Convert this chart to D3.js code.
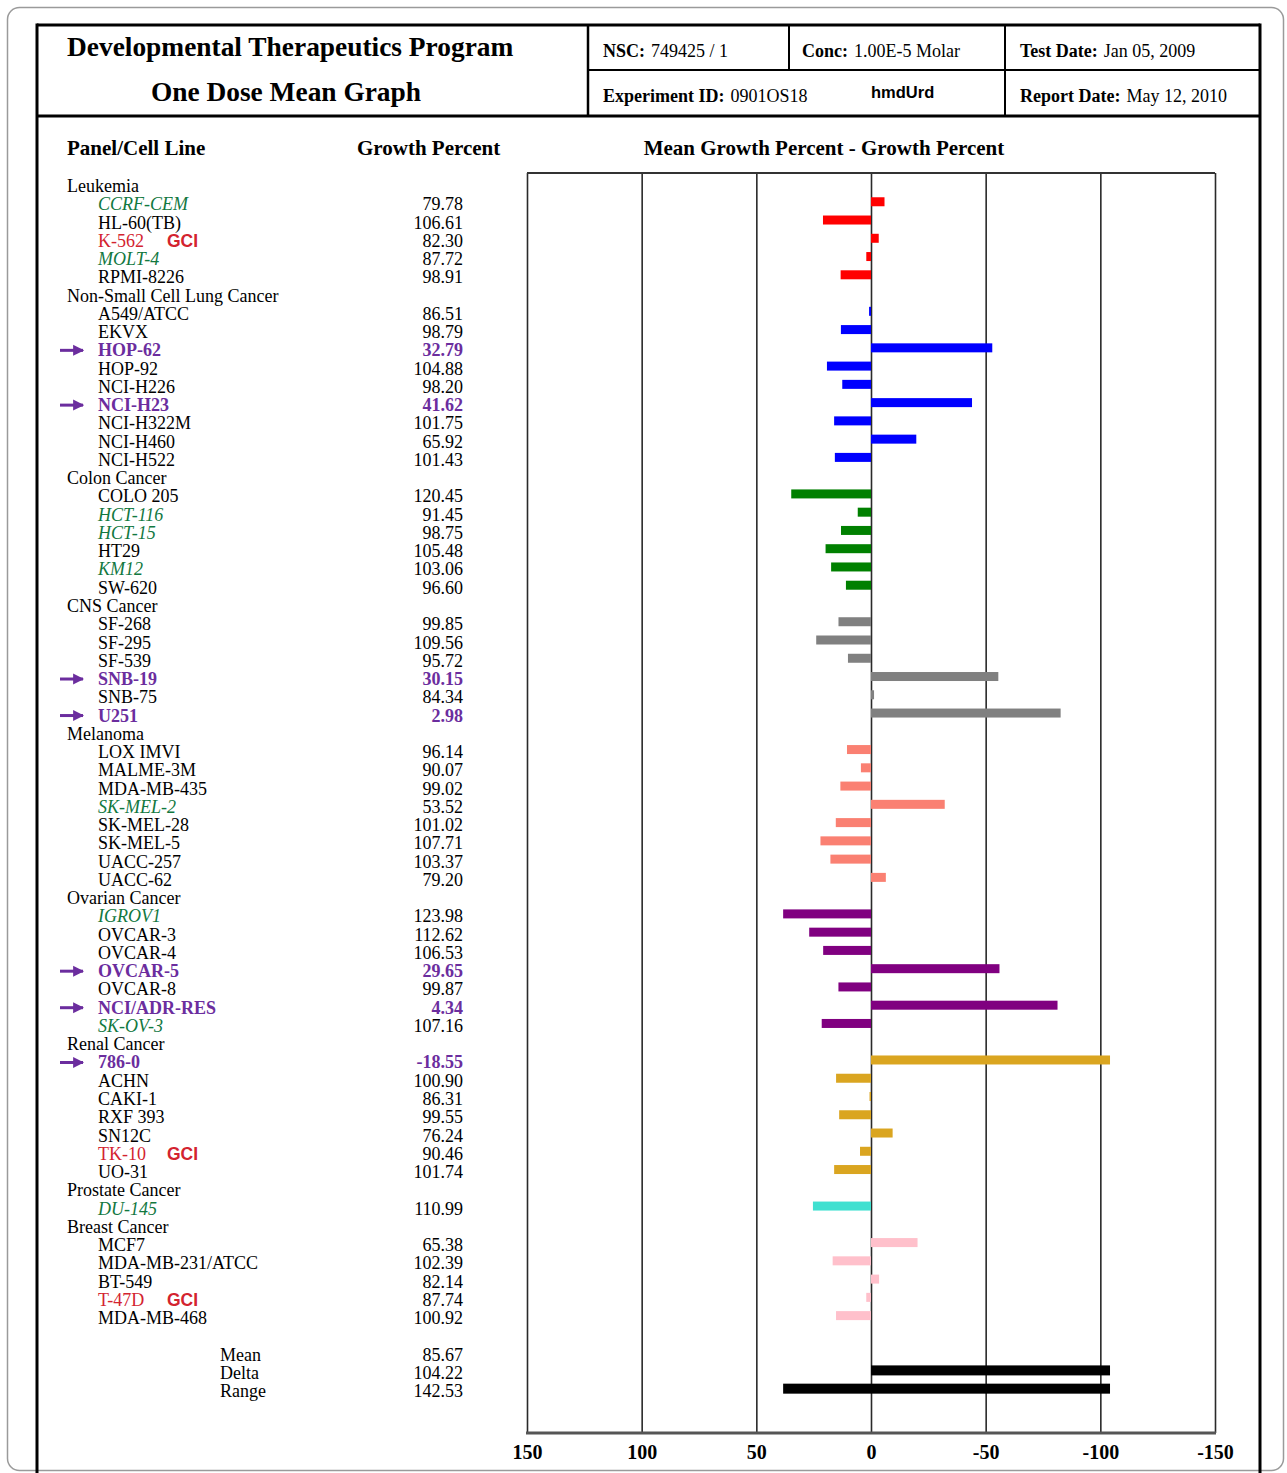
<!DOCTYPE html>
<html><head><meta charset="utf-8">
<script src="https://cdn.jsdelivr.net/npm/d3@7"></script>
<style>
html,body{margin:0;padding:0;background:#fff;}
svg{display:block;}
</style></head>
<body>
<svg id="chart" width="1287" height="1473" font-family='"Liberation Serif","Times New Roman",serif'></svg>
<script>
// ---------------- DATA ----------------
const panels = ["Leukemia","Non-Small Cell Lung Cancer","Colon Cancer","CNS Cancer","Melanoma","Ovarian Cancer","Renal Cancer","Prostate Cancer","Breast Cancer"];
const panelSizes = [5,9,6,6,8,7,7,1,5];
const panelColors = ["#ff0000","#0000ff","#008000","#808080","#fa8072","#800080","#daa520","#40e0d0","#ffc0cb"];
const cellLines = [
 "CCRF-CEM","HL-60(TB)","K-562","MOLT-4","RPMI-8226",
 "A549/ATCC","EKVX","HOP-62","HOP-92","NCI-H226","NCI-H23","NCI-H322M","NCI-H460","NCI-H522",
 "COLO 205","HCT-116","HCT-15","HT29","KM12","SW-620",
 "SF-268","SF-295","SF-539","SNB-19","SNB-75","U251",
 "LOX IMVI","MALME-3M","MDA-MB-435","SK-MEL-2","SK-MEL-28","SK-MEL-5","UACC-257","UACC-62",
 "IGROV1","OVCAR-3","OVCAR-4","OVCAR-5","OVCAR-8","NCI/ADR-RES","SK-OV-3",
 "786-0","ACHN","CAKI-1","RXF 393","SN12C","TK-10","UO-31",
 "DU-145",
 "MCF7","MDA-MB-231/ATCC","BT-549","T-47D","MDA-MB-468"];
const growthPercent = [
 79.78,106.61,82.30,87.72,98.91,
 86.51,98.79,32.79,104.88,98.20,41.62,101.75,65.92,101.43,
 120.45,91.45,98.75,105.48,103.06,96.60,
 99.85,109.56,95.72,30.15,84.34,2.98,
 96.14,90.07,99.02,53.52,101.02,107.71,103.37,79.20,
 123.98,112.62,106.53,29.65,99.87,4.34,107.16,
 -18.55,100.90,86.31,99.55,76.24,90.46,101.74,
 110.99,
 65.38,102.39,82.14,87.74,100.92];
// g = italic green, r = red with GCI, p = purple bold with arrow
const cellStyle = [
 "g","","r","g","",
 "","","p","","","p","","","",
 "","g","g","","g","",
 "","","","p","","p",
 "","","","g","","","","",
 "g","","","p","","p","g",
 "p","","","","","r","",
 "g",
 "","","","r",""];
const summaryLabels = ["Mean","Delta","Range"];
const summaryValues = [85.67,104.22,142.53];
const tickValues = [150,100,50,0,-50,-100,-150];

// --------------- LAYOUT ---------------
const svg = d3.select("#chart");
const serif = '"Liberation Serif","Times New Roman",serif';
const sans = '"Liberation Sans",Arial,sans-serif';
const purple = "#6b2d9e", green = "#12783f", red = "#d3232f";
const fmt = v => v.toFixed(2);

// outer rounded frame
svg.append("rect").attr("x",7.5).attr("y",7.5).attr("width",1276).attr("height",1463)
  .attr("rx",12).attr("fill","none").attr("stroke","#9a9a9a").attr("stroke-width",1.5);

// main black frame
const L=37, R=1260, T=25, HB=116, HM=70;
const g0 = svg.append("g").attr("stroke","#000").attr("fill","none");
g0.append("line").attr("x1",L).attr("x2",L).attr("y1",T-1.5).attr("y2",1473).attr("stroke-width",3);
g0.append("line").attr("x1",R).attr("x2",R).attr("y1",T-1.5).attr("y2",1473).attr("stroke-width",3);
g0.append("line").attr("x1",L).attr("x2",R).attr("y1",T).attr("y2",T).attr("stroke-width",3);
g0.append("line").attr("x1",L).attr("x2",R).attr("y1",HB).attr("y2",HB).attr("stroke-width",3);
g0.append("line").attr("x1",588).attr("x2",R).attr("y1",HM).attr("y2",HM).attr("stroke-width",2);
g0.append("line").attr("x1",588).attr("x2",588).attr("y1",T).attr("y2",HB).attr("stroke-width",2.5);
g0.append("line").attr("x1",789).attr("x2",789).attr("y1",T).attr("y2",HM).attr("stroke-width",2);
g0.append("line").attr("x1",1005).attr("x2",1005).attr("y1",T).attr("y2",HB).attr("stroke-width",2);

// titles
svg.append("text").attr("x",67).attr("y",56).attr("font-size",27.4).attr("font-weight","bold")
  .text("Developmental Therapeutics Program");
svg.append("text").attr("x",286).attr("y",101).attr("font-size",27.4).attr("font-weight","bold")
  .attr("text-anchor","middle").text("One Dose Mean Graph");

function headerCell(x,y,label,value){
  const t = svg.append("text").attr("x",x).attr("y",y).attr("font-size",18);
  t.append("tspan").attr("font-weight","bold").text(label);
  t.append("tspan").attr("dx",6).text(value);
}
headerCell(603,57,"NSC:","749425 / 1");
headerCell(802,57,"Conc:","1.00E-5 Molar");
headerCell(1020,57,"Test Date:","Jan 05, 2009");
headerCell(603,102,"Experiment ID:","0901OS18");
headerCell(1020,102,"Report Date:","May 12, 2010");
svg.append("text").attr("x",871).attr("y",98).attr("font-family",sans).attr("font-weight","bold")
  .attr("font-size",16.5).text("hmdUrd");

// column headers
svg.append("text").attr("x",67).attr("y",155).attr("font-size",21).attr("font-weight","bold").text("Panel/Cell Line");
svg.append("text").attr("x",357).attr("y",155).attr("font-size",21).attr("font-weight","bold").text("Growth Percent");
svg.append("text").attr("x",824).attr("y",155).attr("font-size",21).attr("font-weight","bold")
  .attr("text-anchor","middle").text("Mean Growth Percent - Growth Percent");

// build rows
const rows = [];
let ci = 0;
panels.forEach((p,pi)=>{
  rows.push({type:"panel",name:p});
  for(let k=0;k<panelSizes[pi];k++){
    rows.push({type:"cell",name:cellLines[ci],value:growthPercent[ci],style:cellStyle[ci],color:panelColors[pi]});
    ci++;
  }
});
rows.push({type:"blank"});
summaryLabels.forEach((s,i)=>rows.push({type:"summary",name:s,value:summaryValues[i]}));
rows.forEach((r,i)=>r.i=i);

const y = d3.scaleLinear().domain([0,rows.length-1]).range([192,192+(rows.length-1)*18.26]);
const x = d3.scaleLinear().domain([150,-150]).range([527,1215]);
const mean = summaryValues[0];

// chart frame & grid via axis
const cTop=173, cBot=1433;
const axis = d3.axisBottom(x).tickValues(tickValues).tickSize(-(cBot-cTop)).tickSizeOuter(0).tickPadding(12)
  .tickFormat(d => String(d));
const ag = svg.append("g").attr("transform",`translate(0,${cBot})`).call(axis);
ag.attr("font-family",serif);
ag.select(".domain").remove();
ag.selectAll(".tick line").attr("stroke","#2a2a2a").attr("stroke-width",1.6);
ag.selectAll(".tick text").attr("font-family",serif).attr("font-size",20).attr("font-weight","bold").attr("fill","#000");
svg.append("line").attr("x1",x(150)).attr("x2",x(-150)).attr("y1",cTop).attr("y2",cTop).attr("stroke","#333").attr("stroke-width",2);
svg.append("line").attr("x1",x(150)-1).attr("x2",x(-150)+1).attr("y1",cBot).attr("y2",cBot).attr("stroke","#555").attr("stroke-width",3);

// arrow marker
svg.append("defs").append("marker").attr("id","arr").attr("viewBox","0 0 10 10").attr("refX",9).attr("refY",5)
  .attr("markerWidth",11).attr("markerHeight",12).attr("markerUnits","userSpaceOnUse").attr("orient","auto")
  .append("path").attr("d","M0,0 L10,5 L0,10 Z").attr("fill",purple);

// text rows
const tg = svg.append("g").attr("font-size",18);
rows.forEach(r=>{
  const yb = y(r.i);
  if(r.type==="panel"){
    tg.append("text").attr("x",67).attr("y",yb).text(r.name);
  } else if(r.type==="cell"){
    const t = tg.append("text").attr("x",98).attr("y",yb).text(r.name);
    const v = tg.append("text").attr("x",463).attr("y",yb).attr("text-anchor","end").text(fmt(r.value));
    if(r.style==="g"){ t.attr("fill",green).attr("font-style","italic"); }
    if(r.style==="r"){
      t.attr("fill",red);
      tg.append("text").attr("x",167).attr("y",yb).attr("font-family",sans).attr("font-weight","bold")
        .attr("font-size",17.5).attr("fill",red).text("GCI");
    }
    if(r.style==="p"){
      t.attr("fill",purple).attr("font-weight","bold");
      v.attr("fill",purple).attr("font-weight","bold");
      svg.append("line").attr("x1",60).attr("x2",83).attr("y1",yb-6).attr("y2",yb-6)
        .attr("stroke",purple).attr("stroke-width",3).attr("marker-end","url(#arr)");
    }
  } else if(r.type==="summary"){
    tg.append("text").attr("x",220).attr("y",yb).text(r.name);
    tg.append("text").attr("x",463).attr("y",yb).attr("text-anchor","end").text(fmt(r.value));
  }
});

// bars
const barH = 9;
const cells = rows.filter(r=>r.type==="cell");
svg.append("g").selectAll("rect").data(cells).join("rect")
  .attr("x",d=>Math.min(x(0),x(d.value-mean)))
  .attr("width",d=>Math.abs(x(d.value-mean)-x(0)))
  .attr("y",d=>y(d.i)-8.5-barH/2).attr("height",barH)
  .attr("fill",d=>d.color);

// summary bars: delta (0 to min-mean) and range (max-mean to min-mean)
const gMin = d3.min(growthPercent), gMax = d3.max(growthPercent);
const sRows = rows.filter(r=>r.type==="summary");
const deltaRow = sRows[1], rangeRow = sRows[2];
const sumBars = [
  {i:deltaRow.i, a:0, b:gMin-mean},
  {i:rangeRow.i, a:gMax-mean, b:gMin-mean}
];
svg.append("g").selectAll("rect").data(sumBars).join("rect")
  .attr("x",d=>Math.min(x(d.a),x(d.b)))
  .attr("width",d=>Math.abs(x(d.a)-x(d.b)))
  .attr("y",d=>y(d.i)-8.5-5).attr("height",10)
  .attr("fill","#000");
</script>
</body></html>
